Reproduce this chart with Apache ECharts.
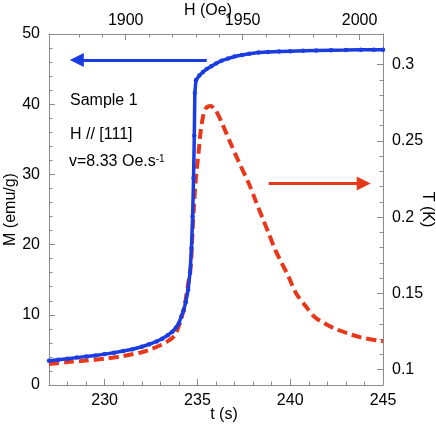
<!DOCTYPE html>
<html>
<head>
<meta charset="utf-8">
<script src="https://cdn.jsdelivr.net/npm/echarts@6/dist/echarts.min.js"></script>
<style>
  html, body { margin: 0; padding: 0; background: #fff; }
  #chart { width: 436px; height: 425px; }
</style>
</head>
<body>
<div id="chart"></div>
<script>
// magnetisation M (emu/g) vs time t (s)
const magTime = [227.0, 227.5, 228.0, 228.5, 229.0, 229.5, 230.0, 230.5, 231.0, 231.5, 232.0, 232.4, 232.8, 233.1, 233.4, 233.65, 233.85, 234.0, 234.12, 234.25, 234.37, 234.5, 234.6, 234.68, 234.74, 234.79, 234.83, 234.86, 234.92, 235.1, 235.3, 235.5, 235.75, 236.0, 236.3, 236.65, 237.0, 237.4, 237.8, 238.3, 238.8, 239.4, 240.0, 240.7, 241.4, 242.2, 243.0, 243.8, 244.5, 245.0];
const magValue = [3.45, 3.6, 3.75, 3.9, 4.05, 4.2, 4.4, 4.6, 4.85, 5.1, 5.45, 5.8, 6.2, 6.6, 7.1, 7.6, 8.2, 8.8, 9.7, 10.6, 11.8, 13.6, 16.0, 19.5, 24.0, 29.5, 35.5, 41.6, 43.4, 44.1, 44.6, 45.0, 45.4, 45.8, 46.2, 46.5, 46.8, 47.0, 47.2, 47.35, 47.45, 47.5, 47.55, 47.6, 47.65, 47.7, 47.72, 47.75, 47.75, 47.75];

// temperature T (K) vs time t (s)
const tempTime = [227.0, 228.0, 229.0, 230.0, 231.0, 232.0, 232.5, 233.0, 233.5, 233.8, 234.1, 234.3, 234.5, 234.64, 234.73, 234.82, 234.91, 235.09, 235.18, 235.3, 235.45, 235.71, 235.98, 236.33, 236.79, 237.2, 237.77, 238.12, 238.48, 238.84, 239.2, 239.55, 239.91, 240.32, 240.86, 241.3, 241.84, 242.37, 243.08, 243.8, 244.87, 245.0];
const tempValue = [0.1038, 0.105, 0.106, 0.1072, 0.109, 0.1115, 0.1135, 0.116, 0.1195, 0.123, 0.1326, 0.1413, 0.1566, 0.1675, 0.1894, 0.209, 0.2243, 0.246, 0.257, 0.2657, 0.2712, 0.2728, 0.270, 0.2614, 0.2483, 0.237, 0.222, 0.2112, 0.2002, 0.1894, 0.1784, 0.1697, 0.161, 0.150, 0.1413, 0.1347, 0.1304, 0.1271, 0.1239, 0.1212, 0.1188, 0.1186];

const tTicks = [230, 235, 240, 245];
const hTicks = [1900, 1950, 2000];
const hMinorTicks = [1880, 1890, 1900, 1910, 1920, 1930, 1940, 1950, 1960, 1970, 1980, 1990, 2000, 2010];
const TTicks = [0.1, 0.15, 0.2, 0.25, 0.3];

const blue = '#1a3de2';
const red = '#e8381c';
const axisGray = '#8c8c8c';
const font = 'Liberation Sans, Arial, Helvetica, sans-serif';

const magData = magTime.map((t, i) => [t, magValue[i]]);
const tempData = tempTime.map((t, i) => [t, tempValue[i]]);

const chart = echarts.init(document.getElementById('chart'), null, { renderer: 'canvas' });

const lineAx = { show: true, onZero: false, lineStyle: { color: axisGray, width: 1 } };
const labelTxt = { color: '#000', fontSize: 16, fontFamily: font, formatter: v => String(v) };
const nameTxt = { color: '#000', fontSize: 16, fontFamily: font };

chart.setOption({
  animation: false,
  grid: { left: 49, right: 53, top: 34, bottom: 40, containLabel: false, outerBoundsMode: 'none' },
  xAxis: [
    {
      type: 'value', position: 'bottom', min: 227, max: 245,
      axisLine: lineAx,
      axisTick: { inside: true, length: 6, customValues: tTicks, lineStyle: { color: axisGray } },
      axisLabel: Object.assign({ customValues: tTicks, margin: 8 }, labelTxt),
      splitLine: { show: false },
      name: 't (s)', nameLocation: 'middle', nameGap: 22, nameMoveOverlap: false,
      nameTextStyle: Object.assign({ padding: [0, 0, 0, 16] }, nameTxt)
    },
    {
      type: 'value', position: 'bottom', min: 227, max: 245, interval: 1,
      axisLine: { show: false },
      axisTick: { inside: true, length: 3.5, lineStyle: { color: axisGray } },
      axisLabel: { show: false },
      splitLine: { show: false }
    },
    {
      type: 'value', position: 'top', min: 1867.2, max: 2010,
      axisLine: lineAx,
      axisTick: { inside: true, length: 6, customValues: hTicks, lineStyle: { color: axisGray } },
      axisLabel: Object.assign({ customValues: hTicks, margin: 5 }, labelTxt),
      splitLine: { show: false },
      name: 'H (Oe)', nameLocation: 'middle', nameGap: 15, nameMoveOverlap: false,
      nameTextStyle: Object.assign({ padding: [0, 16, 0, 0] }, nameTxt)
    },
    {
      type: 'value', position: 'top', min: 1867.2, max: 2010,
      axisLine: { show: false },
      axisTick: { inside: true, length: 3.5, customValues: hMinorTicks, lineStyle: { color: axisGray } },
      axisLabel: { show: false },
      splitLine: { show: false }
    }
  ],
  yAxis: [
    {
      type: 'value', position: 'left', min: 0, max: 50, interval: 10,
      axisLine: lineAx,
      axisTick: { inside: true, length: 6, lineStyle: { color: axisGray } },
      minorTick: { show: true, splitNumber: 5, length: 3.5, lineStyle: { color: axisGray } },
      axisLabel: Object.assign({ margin: 9 }, labelTxt),
      splitLine: { show: false },
      name: 'M (emu/g)', nameLocation: 'middle', nameRotate: 90, nameGap: 30, nameMoveOverlap: false,
      nameTextStyle: nameTxt
    },
    {
      type: 'value', position: 'right', min: 0.09, max: 0.32,
      axisLine: lineAx,
      axisTick: { inside: true, length: 6, customValues: TTicks, lineStyle: { color: axisGray } },
      axisLabel: Object.assign({ customValues: TTicks, margin: 9 }, labelTxt),
      splitLine: { show: false },
      name: 'T (K)', nameLocation: 'middle', nameRotate: -90, nameGap: 36, nameMoveOverlap: false,
      nameTextStyle: nameTxt
    },
    {
      type: 'value', position: 'right', min: 0.09, max: 0.32, interval: 0.01,
      axisLine: { show: false },
      axisTick: { inside: true, length: 3.5, lineStyle: { color: axisGray } },
      axisLabel: { show: false },
      splitLine: { show: false }
    }
  ],
  graphic: [
    { type: 'text', left: 70, top: 93, style: { text: 'Sample 1', fill: '#000', font: '16px ' + font } },
    { type: 'text', left: 70, top: 127, style: { text: 'H // [111]', fill: '#000', font: '16px ' + font } },
    {
      type: 'text', left: 69, top: 154,
      style: {
        text: '{a|v=8.33 Oe.s}{b|-1}',
        rich: {
          a: { fontSize: 16, fontFamily: font, fill: '#000', verticalAlign: 'bottom' },
          b: { fontSize: 10, fontFamily: font, fill: '#000', verticalAlign: 'top' }
        }
      }
    }
  ],
  series: [
    {
      name: 'T', type: 'line', xAxisIndex: 0, yAxisIndex: 1,
      data: tempData, showSymbol: false, smooth: 0.3,
      lineStyle: { color: red, width: 4, type: [10, 5] },
      markLine: {
        silent: true, symbol: ['none', 'triangle'], symbolSize: 14,
        label: { show: false },
        lineStyle: { color: red, width: 3, type: 'solid' },
        data: [[{ coord: [238.84, 0.222] }, { coord: [243.96, 0.222] }]]
      },
      z: 2
    },
    {
      name: 'M', type: 'line', xAxisIndex: 0, yAxisIndex: 0,
      data: magData, showSymbol: true, symbol: 'circle', symbolSize: 4.5,
      itemStyle: { color: blue },
      lineStyle: { color: blue, width: 3.5 },
      markLine: {
        silent: true, symbol: ['none', 'triangle'], symbolSize: 14,
        label: { show: false },
        lineStyle: { color: blue, width: 3, type: 'solid' },
        data: [[{ coord: [235.5, 46.3] }, { coord: [228.5, 46.3] }]]
      },
      z: 3
    }
  ]
});
</script>
</body>
</html>
